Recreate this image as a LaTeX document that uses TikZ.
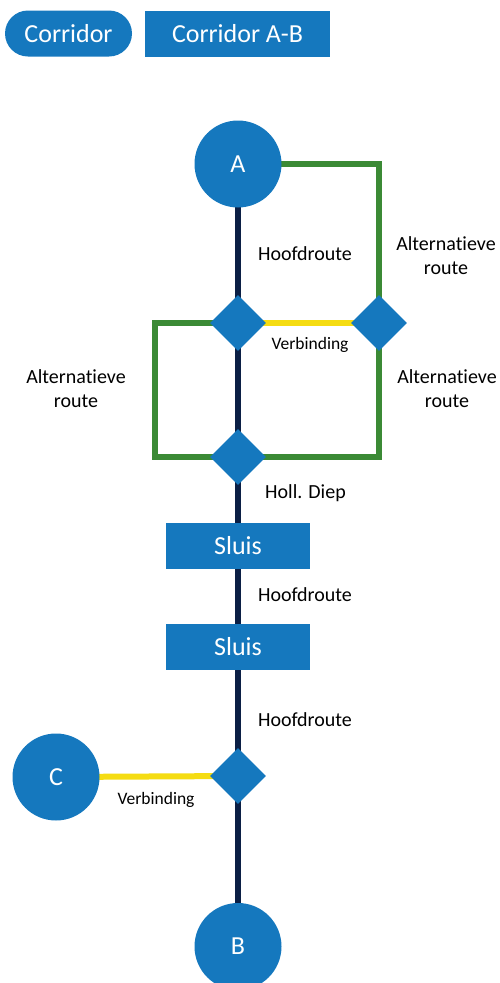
\documentclass[tikz,border=0pt]{standalone}
\usepackage{fontspec}
\setmainfont[Ligatures=NoCommon]{Carlito}
\usetikzlibrary{shapes.geometric,backgrounds}
\definecolor{rblue}{HTML}{1578BE}
\definecolor{rgreen}{HTML}{3B8A35}
\definecolor{ryellow}{HTML}{F5DC12}
\definecolor{rnavy}{HTML}{0B1F45}
\tikzset{
  place/.style={circle,fill=rblue,text=white,minimum size=87pt,inner sep=0pt,font=\fontsize{26}{28}\selectfont},
  junction/.style={diamond,fill=rblue,minimum width=56pt,minimum height=56pt,inner sep=0pt},
  lock/.style={rectangle,fill=rblue,text=white,minimum width=144pt,minimum height=46pt,inner sep=0pt,font=\fontsize{26}{28}\selectfont},
  lbl/.style={text=black,inner sep=0pt,align=center,font=\fontsize{20}{24}\selectfont},
  smalllbl/.style={text=black,inner sep=0pt,font=\fontsize{17.5}{20}\selectfont},
  mainroute/.style={draw=rnavy,line width=6pt},
  altroute/.style={draw=rgreen,line width=6pt},
  linkroute/.style={draw=ryellow,line width=6pt},
}
\begin{document}
\begin{tikzpicture}[x=1pt,y=-1pt]
\useasboundingbox (0,0) rectangle (499,983);
% header
\node[rectangle,rounded corners=23pt,fill=rblue,text=white,minimum width=127pt,minimum height=46pt,inner sep=0pt,font=\fontsize{26}{28}\selectfont] (corr) at (68.5,33.5) {Corridor};
\node[rectangle,fill=rblue,text=white,minimum width=185pt,minimum height=46pt,inner sep=0pt,font=\fontsize{26}{28}\selectfont] (corrab) at (237.5,33.5) {Corridor A-B};
% nodes
\node[place] (A) at (238,164) {A};
\node[junction] (J1) at (238,323) {};
\node[junction] (J2) at (379,323) {};
\node[junction] (J3) at (238,457) {};
\node[lock] (S1) at (238,546) {Sluis};
\node[lock] (S2) at (238,646.5) {Sluis};
\node[junction] (J4) at (238,776) {};
\node[place] (C) at (56,777) {C};
\node[place] (B) at (238,946.5) {B};
% labels
\node[lbl] (h1) at (305,254) {Hoofdroute};
\node[lbl] (alt1) at (446,256) {Alternatieve\\route};
\node[smalllbl] (v1) at (310,345) {Verbinding};
\node[lbl] (alt2) at (76,389) {Alternatieve\\route};
\node[lbl] (alt3) at (447,389) {Alternatieve\\route};
\node[lbl,anchor=west] (hd) at (265,493) {Holl. Diep};
\node[lbl] (h2) at (305,595) {Hoofdroute};
\node[lbl] (h3) at (305,720) {Hoofdroute};
\node[smalllbl] (v2) at (156,800) {Verbinding};
% connectors
\begin{scope}[on background layer]
\draw[mainroute] (A.center) -- (B.center);
\draw[altroute] (A.center) -| (J2.center);
\draw[altroute] (J1.center) -- ++(-83,0) |- (J3.center) -| (J2.center);
\draw[linkroute] (J1.center) -- (J2.center);
\draw[linkroute] (C.center) -- (J4.center);
\end{scope}
\end{tikzpicture}
\end{document}
